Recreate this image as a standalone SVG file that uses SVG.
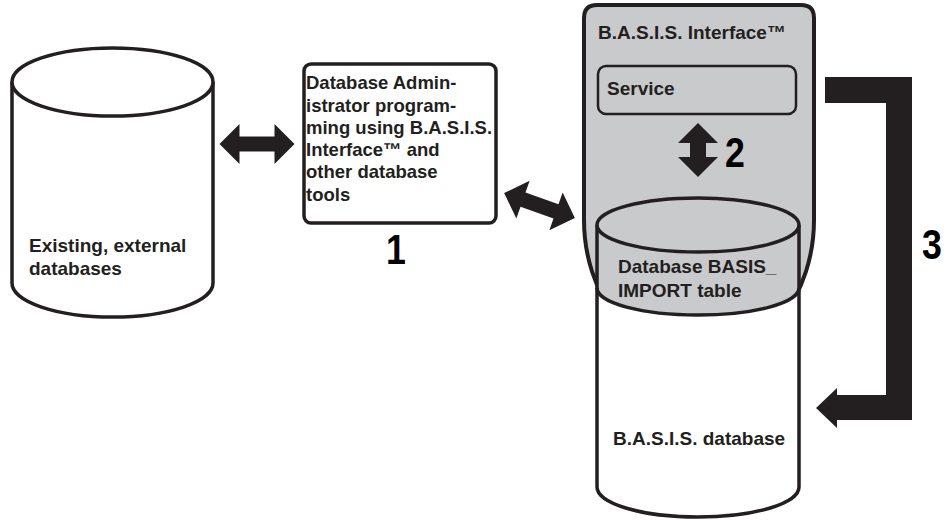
<svg xmlns="http://www.w3.org/2000/svg" width="949" height="520" viewBox="0 0 949 520">
<style>
.ln{stroke:#231f20;stroke-width:3.5;fill:none}
.wf{fill:#ffffff}
.gf{fill:#c9cacc}
.t{font-family:"Liberation Sans",Arial,sans-serif;font-weight:bold;font-size:19px;fill:#231f20}
.tb{font-size:18.5px}
.n{font-family:"Liberation Sans",Arial,sans-serif;font-weight:bold;font-size:42px;fill:#000}
.ar{fill:#231f20}
</style>
<defs>
<polygon id="dbl" points="-37.5,0 -17.5,-20 -17.5,-7.5 17.5,-7.5 17.5,-20 37.5,0 17.5,20 17.5,7.5 -17.5,7.5 -17.5,20"/>
</defs>
<rect width="949" height="520" fill="#ffffff"/>

<g id="external-databases">
<path class="wf" d="M12,82 V283 A100.5,34 0 0 0 213,283 V82 Z"/>
<path class="ln" d="M12,82 V283 A100.5,34 0 0 0 213,283 V82"/>
<ellipse class="ln" cx="112.5" cy="82" rx="100.5" ry="34" style="fill:#fff"/>
<text class="t" x="29" y="252">Existing, external</text>
<text class="t" x="29" y="275">databases</text>
</g>

<g id="dba-box">
<rect class="ln" x="304" y="64" width="192" height="159" rx="7" style="fill:#fff"/>
<text class="t tb" x="306" y="89">Database Admin-</text>
<text class="t tb" x="306" y="111.5">istrator program-</text>
<text class="t tb" x="306" y="134">ming using B.A.S.I.S.</text>
<text class="t tb" x="306" y="156">Interface™ and</text>
<text class="t tb" x="306" y="178">other database</text>
<text class="t tb" x="306" y="200.5">tools</text>
</g>

<g id="basis-interface">
<path class="gf" d="M584,18 Q584,5 597,5 H801 Q814,5 814,18 V220 A115,140 0 0 1 584,220 Z" style="stroke:#231f20;stroke-width:4"/>
<text class="t" x="598" y="39">B.A.S.I.S. Interface™</text>
</g>

<g id="service">
<rect x="598" y="66" width="198" height="48" rx="8" style="fill:#c9cacc;stroke:#231f20;stroke-width:2.5"/>
<text class="t" x="607" y="95">Service</text>
</g>

<g id="basis-database">
<path class="wf" d="M597,288 V487 A101,30 0 0 0 799,487 V288 Z"/>
<path class="gf" d="M597,225 V288 A101,27 0 0 0 799,288 V225 Z"/>
<ellipse class="ln" cx="698" cy="225" rx="101" ry="27" style="fill:#c9cacc"/>
<path class="ln" d="M597,288 A101,27 0 0 0 799,288"/>
<path class="ln" d="M597,225 V487 A101,30 0 0 0 799,487 V225"/>
<text class="t" x="618" y="273">Database BASIS_</text>
<text class="t" x="618" y="297">IMPORT table</text>
<text class="t" x="613" y="445">B.A.S.I.S. database</text>
</g>

<g id="connectors">
<use href="#dbl" class="ar" transform="translate(257,144)"/>
<use href="#dbl" class="ar" transform="translate(539.5,205.5) rotate(19.4)"/>
<polygon class="ar" points="698,123 718,143 706,143 706,157 718,157 698,177 678,157 690,157 690,143 678,143"/>
<polygon class="ar" points="825,77 912,77 912,420 837,420 837,428 816,408 837,388 837,395 886,395 886,103 825,103"/>
</g>

<g id="labels">
<text class="n" text-anchor="middle" transform="translate(396,264) scale(0.85,1)">1</text>
<text class="n" text-anchor="middle" transform="translate(735,167) scale(0.85,1)">2</text>
<text class="n" text-anchor="middle" transform="translate(932,259) scale(0.85,1)">3</text>
</g>
</svg>
